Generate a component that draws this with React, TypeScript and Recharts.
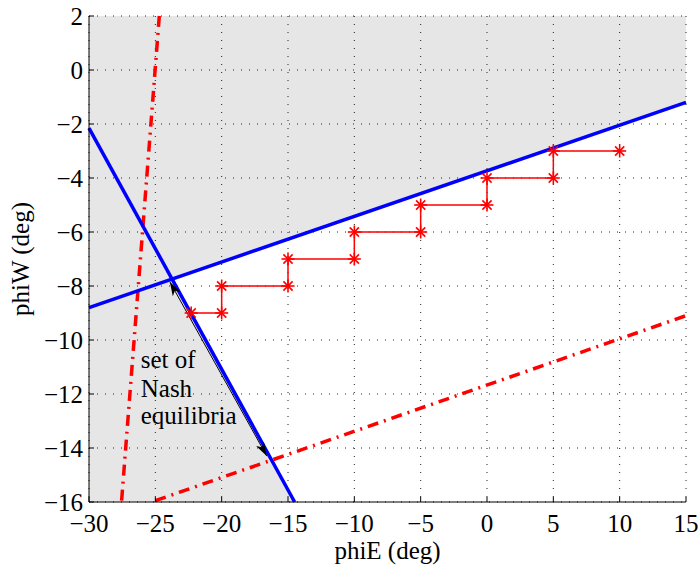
import React from 'react'
import { ComposedChart, Line, Area, XAxis, YAxis, CartesianGrid, ReferenceDot } from 'recharts'

const xTicks = [-30, -25, -20, -15, -10, -5, 0, 5, 10, 15]
const yTicks = [-16, -14, -12, -10, -8, -6, -4, -2, 0, 2]

// best-response lines (blue) and constraint lines (red dash-dot)
const blueUpper = [{ x: -30, y: -8.8 }, { x: 15, y: -1.2 }]
const blueSteep = [{ x: -30, y: -2.15 }, { x: -14.5, y: -16 }]
const redSteep = [{ x: -24.7, y: 2 }, { x: -27.55, y: -16 }]
const redShallow = [{ x: -25, y: -15.95 }, { x: 15, y: -9.1 }]

// iteration path
const stepX = [-22.3, -20, -20, -15, -15, -10, -10, -5, -5, 0, 0, 5, 5, 10]
const stepY = [-9, -9, -8, -8, -7, -7, -6, -6, -5, -5, -4, -4, -3, -3]
const steps = stepX.map((x, i) => ({ x, y: stepY[i] }))

const nashArrow = [{ x: -23.9, y: -7.85 }, { x: -16.6, y: -14.3 }]

// white (unshaded) region: below the upper blue line and right of the steep one
const freeRegion = [
  { x: -23.74, band: [-7.75, -7.75] },
  { x: -14.5, band: [-16, -6.18] },
  { x: 15, band: [-16, -1.2] },
]

const font = 'Times New Roman'
const fontSize = 25
const fmt = (v: number) => (v < 0 ? `\u2212${Math.abs(v)}` : `${v}`)

const XTick = (props: any) => {
  const { x, y, payload } = props
  return (
    <text x={x} y={y} dy="0.71em" textAnchor="middle" fill="#000" style={{ fontFamily: font, fontSize }}>
      {fmt(payload.value)}
    </text>
  )
}

const YTick = (props: any) => {
  const { x, y, payload } = props
  return (
    <text x={x} y={y} dy="0.355em" textAnchor="end" fill="#000" style={{ fontFamily: font, fontSize }}>
      {fmt(payload.value)}
    </text>
  )
}

const Star = (props: any) => {
  const { cx, cy, index } = props
  if (cx == null || cy == null) return null
  const r = 6.5
  const d = r * 0.707
  return (
    <g key={`star-${index}`} stroke="#ff0000" strokeWidth={1.6}>
      <line x1={cx - r} y1={cy} x2={cx + r} y2={cy} />
      <line x1={cx} y1={cy - r} x2={cx} y2={cy + r} />
      <line x1={cx - d} y1={cy - d} x2={cx + d} y2={cy + d} />
      <line x1={cx - d} y1={cy + d} x2={cx + d} y2={cy - d} />
    </g>
  )
}

const NashText = (props: any) => {
  const { cx, cy } = props
  return (
    <text x={cx} y={cy} fill="#000" style={{ fontFamily: font, fontSize }}>
      <tspan x={cx} dy={0}>set of</tspan>
      <tspan x={cx} dy={28.5}>Nash</tspan>
      <tspan x={cx} dy={27}>equilibria</tspan>
    </text>
  )
}

export default function App() {
  return (
    <div style={{ position: 'absolute', left: 0, top: 0, width: 698, height: 565, background: '#fff' }}>
      <svg width={0} height={0} style={{ position: 'absolute' }}>
        <defs>
          <marker id="nashHead" viewBox="0 0 14 9" refX="14" refY="4.5" markerWidth="14" markerHeight="9"
            markerUnits="userSpaceOnUse" orient="auto-start-reverse">
            <path d="M0,0 L14,4.5 L0,9 L4,4.5 Z" fill="#000" />
          </marker>
        </defs>
      </svg>
      <ComposedChart width={698} height={565} margin={{ top: 16, right: 12, bottom: 0, left: 0 }}>
        <CartesianGrid fill="#e6e6e6" horizontal={false} vertical={false} />
        <XAxis
          dataKey="x" type="number" domain={[-30, 15]} ticks={xTicks} interval={0}
          height={63} tickSize={-5} tickMargin={17}
          axisLine={{ stroke: '#000' }} tickLine={{ stroke: '#000' }} tick={XTick}
          label={{ value: 'phiE (deg)', position: 'insideBottom', offset: 6, fill: '#000', fontSize, style: { fontFamily: font } }}
        />
        <XAxis
          xAxisId="top" orientation="top" dataKey="x" type="number" domain={[-30, 15]} ticks={xTicks}
          height={0} tickSize={-5} tick={false} axisLine={{ stroke: '#000' }} tickLine={{ stroke: '#000' }}
        />
        <YAxis
          type="number" domain={[-16, 2]} ticks={yTicks} interval={0}
          width={89} tickSize={-5} tickMargin={11}
          axisLine={{ stroke: '#000' }} tickLine={{ stroke: '#000' }} tick={YTick}
          label={{ value: 'phiW (deg)', angle: -90, position: 'insideLeft', offset: 20, fill: '#000', fontSize, style: { textAnchor: 'middle', fontFamily: font } }}
        />
        <YAxis
          yAxisId="right" orientation="right" type="number" domain={[-16, 2]} ticks={yTicks}
          width={0} tickSize={-5} tick={false} axisLine={{ stroke: '#000' }} tickLine={{ stroke: '#000' }}
        />
        <Area data={freeRegion} dataKey="band" type="linear" stroke="none" fill="#ffffff" fillOpacity={1} isAnimationActive={false} />
        <CartesianGrid stroke="#222" strokeDasharray="1 7" fill="none" zIndex={200} />
        <Line data={redSteep} dataKey="y" type="linear" stroke="#ff0000" strokeWidth={3.5} strokeDasharray="11 6 2 6" dot={false} activeDot={false} isAnimationActive={false} />
        <Line data={redShallow} dataKey="y" type="linear" stroke="#ff0000" strokeWidth={3.5} strokeDasharray="11 6 2 6" dot={false} activeDot={false} isAnimationActive={false} />
        <Line data={blueUpper} dataKey="y" type="linear" stroke="#0000ff" strokeWidth={3.5} dot={false} activeDot={false} isAnimationActive={false} />
        <Line data={blueSteep} dataKey="y" type="linear" stroke="#0000ff" strokeWidth={3.5} dot={false} activeDot={false} isAnimationActive={false} />
        <Line data={steps} dataKey="y" type="linear" stroke="#ff0000" strokeWidth={1.5} dot={Star} activeDot={false} isAnimationActive={false} />
        <Line data={nashArrow} dataKey="y" type="linear" stroke="#000" strokeWidth={1} dot={false} activeDot={false}
          markerStart="url(#nashHead)" markerEnd="url(#nashHead)" isAnimationActive={false} />
        <ReferenceDot x={-26.1} y={-11.05} r={0} shape={NashText} />
      </ComposedChart>
    </div>
  )
}
